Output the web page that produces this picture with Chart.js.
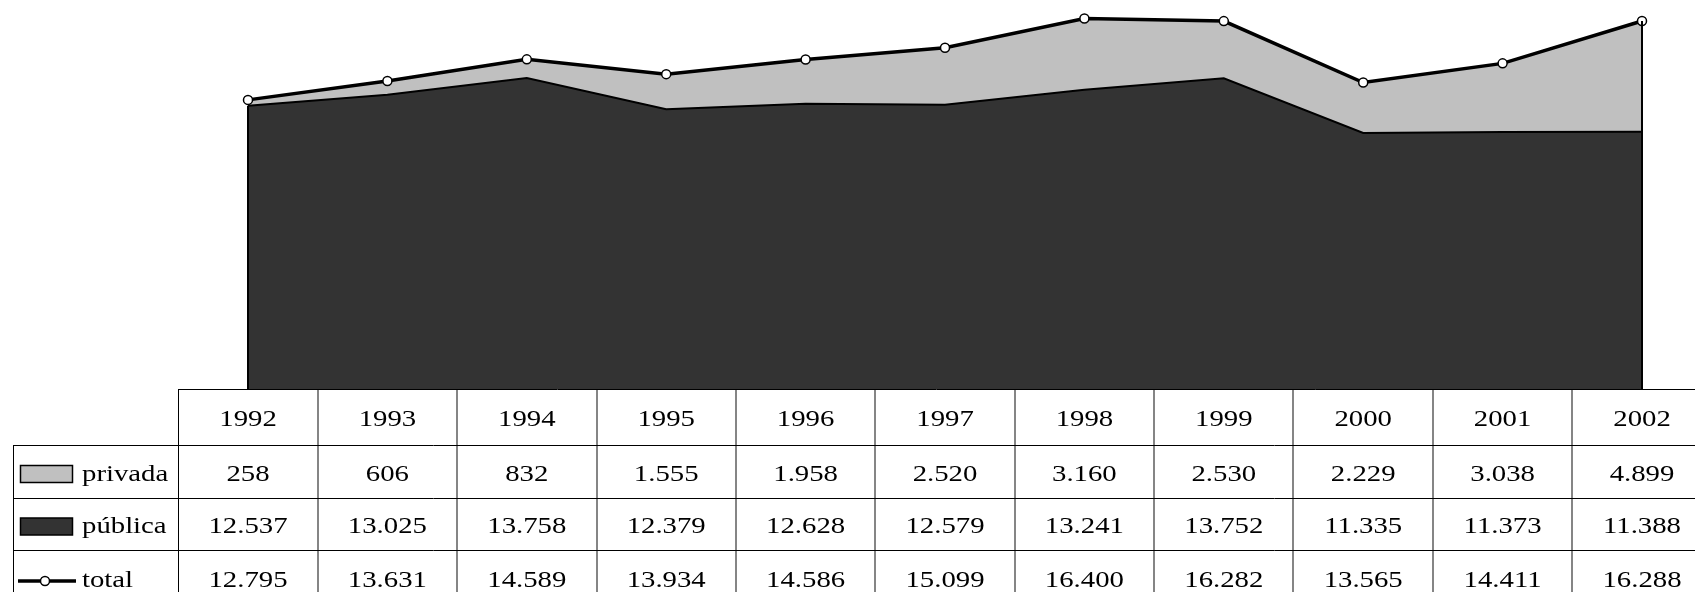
<!DOCTYPE html>
<html>
<head>
<meta charset="utf-8">
<script src="https://cdn.jsdelivr.net/npm/chart.js@4.4.1/dist/chart.umd.min.js"></script>
<style>
  html, body { margin: 0; padding: 0; background: #fff; overflow: hidden; }
  #wrap { width: 1695px; height: 592px; position: relative; }
</style>
</head>
<body>
<div id="wrap"><canvas id="chart" width="1695" height="592"></canvas></div>
<script>
// Data
const years = ['1992', '1993', '1994', '1995', '1996', '1997', '1998', '1999', '2000', '2001', '2002'];
const privada = [258, 606, 832, 1555, 1958, 2520, 3160, 2530, 2229, 3038, 4899];
const publica = [12537, 13025, 13758, 12379, 12628, 12579, 13241, 13752, 11335, 11373, 11388];
const total = [12795, 13631, 14589, 13934, 14586, 15099, 16400, 16282, 13565, 14411, 16288];
const rowLabels = ['privada', 'pública', 'total'];

const FONT = '23px "Liberation Serif", "Times New Roman", serif';
const STRETCH = 1.25; // text in the table is drawn wide

function fmt(v) {
    return String(v).replace(/\B(?=(\d{3})+(?!\d))/g, '.');
}

function wideText(ctx, txt, x, y, align) {
    ctx.save();
    ctx.translate(x, y);
    ctx.scale(STRETCH, 1);
    ctx.textAlign = align;
    ctx.fillText(txt, 0, 0);
    ctx.restore();
}

// Black edges on the sides of the areas
const edgePlugin = {
    id: 'edges',
    afterDatasetsDraw(chart) {
        const ctx = chart.ctx;
        const x = chart.scales.x;
        const y = chart.scales.y;
        const last = years.length - 1;
        ctx.save();
        ctx.strokeStyle = '#000';
        ctx.lineWidth = 2;
        ctx.beginPath();
        ctx.moveTo(x.getPixelForValue(0), y.getPixelForValue(0));
        ctx.lineTo(x.getPixelForValue(0), y.getPixelForValue(publica[0]));
        ctx.moveTo(x.getPixelForValue(last), y.getPixelForValue(0));
        ctx.lineTo(x.getPixelForValue(last), y.getPixelForValue(total[last]));
        ctx.stroke();
        ctx.restore();
    }
};

// Data table under the chart
const tablePlugin = {
    id: 'dataTable',
    afterDraw(chart) {
        const ctx = chart.ctx;
        const x = chart.scales.x;
        const area = chart.chartArea;
        const colW = x.getPixelForValue(1) - x.getPixelForValue(0);
        const tableLeft = x.getPixelForValue(0) - colW / 2;
        const labelLeft = 13;
        const right = chart.width;
        const rowH = [56, 53, 52, 56];
        const rowTop = [area.bottom];
        for (let i = 0; i < rowH.length; i++) rowTop.push(rowTop[i] + rowH[i]);

        ctx.save();
        // column separators
        ctx.strokeStyle = '#858585';
        ctx.lineWidth = 2;
        ctx.beginPath();
        for (let i = 1; i <= years.length; i++) {
            const cx = Math.round(tableLeft + i * colW);
            ctx.moveTo(cx, rowTop[0]);
            ctx.lineTo(cx, chart.height);
        }
        ctx.stroke();

        // horizontal lines
        ctx.strokeStyle = '#000';
        ctx.lineWidth = 1;
        ctx.beginPath();
        ctx.moveTo(tableLeft, Math.round(rowTop[0]) + 0.5);
        ctx.lineTo(right, Math.round(rowTop[0]) + 0.5);
        for (let r = 1; r < rowTop.length; r++) {
            ctx.moveTo(labelLeft, Math.round(rowTop[r]) + 0.5);
            ctx.lineTo(right, Math.round(rowTop[r]) + 0.5);
        }
        // outer verticals
        ctx.moveTo(Math.round(tableLeft) + 0.5, rowTop[0]);
        ctx.lineTo(Math.round(tableLeft) + 0.5, chart.height);
        ctx.moveTo(labelLeft + 0.5, rowTop[1]);
        ctx.lineTo(labelLeft + 0.5, chart.height);
        ctx.stroke();

        // texts
        ctx.fillStyle = '#000';
        ctx.font = FONT;
        ctx.textBaseline = 'middle';
        const rows = [years, privada.map(fmt), publica.map(fmt), total.map(fmt)];
        rows.forEach((vals, r) => {
            const cy = rowTop[r] + rowH[r] / 2 + 3;
            vals.forEach((v, i) => {
                wideText(ctx, v, x.getPixelForValue(i), cy, 'center');
            });
        });

        // row labels with legend keys
        rowLabels.forEach((lab, r) => {
            const cy = rowTop[r + 1] + rowH[r + 1] / 2 + 3;
            ctx.fillStyle = '#000';
            wideText(ctx, lab, 82, cy, 'left');
            ctx.strokeStyle = '#000';
            if (r < 2) {
                ctx.lineWidth = 1.5;
                ctx.fillStyle = r === 0 ? '#c0c0c0' : '#333333';
                ctx.fillRect(20.5, cy - 9, 52, 17);
                ctx.strokeRect(20.5, cy - 9, 52, 17);
            } else {
                ctx.lineWidth = 3.5;
                ctx.beginPath();
                ctx.moveTo(18, cy);
                ctx.lineTo(76, cy);
                ctx.stroke();
                ctx.lineWidth = 1.5;
                ctx.fillStyle = '#fff';
                ctx.beginPath();
                ctx.arc(45, cy, 4.5, 0, Math.PI * 2);
                ctx.fill();
                ctx.stroke();
            }
        });
        ctx.restore();
    }
};

const ctx = document.getElementById('chart').getContext('2d');
new Chart(ctx, {
    type: 'line',
    data: {
        labels: years,
        datasets: [
            {
                label: 'total',
                data: total,
                stack: 'total',
                order: 0,
                fill: false,
                borderColor: '#000',
                borderWidth: 3.5,
                pointRadius: 4.5,
                pointBackgroundColor: '#fff',
                pointBorderColor: '#000',
                pointBorderWidth: 1.5,
                tension: 0,
                clip: false
            },
            {
                label: 'pública',
                data: publica,
                stack: 'areas',
                order: 1,
                fill: 'origin',
                backgroundColor: '#333333',
                borderColor: '#000',
                borderWidth: 2,
                pointRadius: 0,
                tension: 0
            },
            {
                label: 'privada',
                data: privada,
                stack: 'areas',
                order: 2,
                fill: '-1',
                backgroundColor: '#c0c0c0',
                borderColor: '#c0c0c0',
                borderWidth: 0,
                pointRadius: 0,
                tension: 0
            }
        ]
    },
    options: {
        responsive: false,
        animation: false,
        layout: { padding: { left: 248, right: 53, top: 0, bottom: 203 } },
        scales: {
            x: { display: false, offset: false },
            y: { display: false, stacked: true, min: 0, max: 16950 }
        },
        plugins: {
            legend: { display: false },
            tooltip: { enabled: false }
        }
    },
    plugins: [edgePlugin, tablePlugin]
});
</script>
</body>
</html>
